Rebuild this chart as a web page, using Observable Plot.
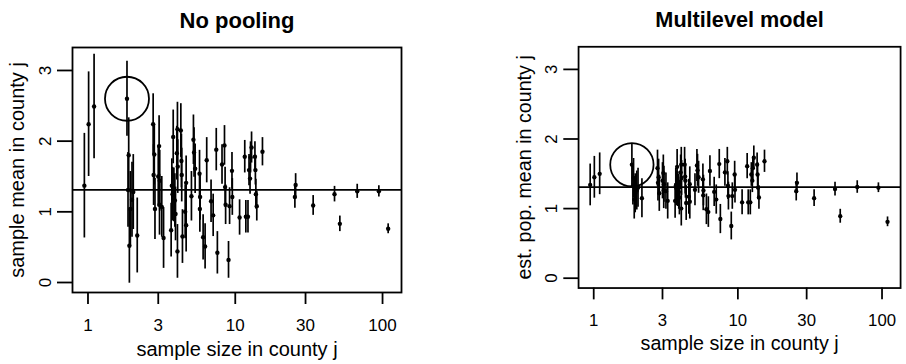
<!DOCTYPE html>
<html>
<head>
<meta charset="utf-8">
<script src="https://cdn.jsdelivr.net/npm/d3@7"></script>
<script src="https://cdn.jsdelivr.net/npm/@observablehq/plot@0.6"></script>
<style>
  html, body { margin: 0; padding: 0; background: white; }
  #wrap { position: relative; width: 906px; height: 364px; overflow: hidden; background: white; }
  #left, #right { position: absolute; top: 0; }
  #left { left: 0; }
  #right { left: 453px; }
</style>
</head>
<body>
<div id="wrap"><div id="left"></div><div id="right"></div></div>
<script>
// ---- data ----
const panelTitles = ["No pooling", "Multilevel model"];
const xLabel = "sample size in county j";
const yLabels = ["sample mean in county j", "est. pop. mean in county j"];
const xTicks = [1, 3, 10, 30, 100];
const yTicks = [0, 1, 2, 3];
const grandMean = 1.31;
const circledCounty = 3; // index of the circled county

// (jittered) sample size in each county
const sampleSize = [0.945, 1.01, 1.10, 1.84, 1.89, 1.87, 1.91, 2.03, 1.99, 1.94, 2.16,
  2.77, 2.82, 2.79, 2.85, 3.04, 3.00, 3.07, 3.06, 3.17, 3.26,
  3.67, 3.71, 3.75, 3.79, 3.83, 3.89, 3.93, 4.01, 4.05, 4.05, 4.07, 4.27, 4.31, 4.33, 4.38, 4.57, 4.64, 4.64,
  5.04, 5.20, 5.25, 5.34, 5.72, 5.77, 5.75, 6.05, 6.24, 6.40, 6.85, 7.08, 7.43, 7.56,
  8.13, 8.45, 8.53, 8.60, 9.00, 9.15, 9.50, 9.55, 10.7, 11.6, 11.8, 12.2, 12.4, 12.6, 12.7, 12.9,
  13.6, 13.7, 13.8, 14.0, 15.3, 25.4, 25.7, 33.8, 47.2, 51.3, 67.3, 94.4, 109.2];

// no pooling: sample mean and standard error
const npMean = [1.37, 2.24, 2.49, 2.60, 1.80, 1.31, 0.52, 1.28, 1.17, 1.04, 0.665,
  2.24, 1.81, 1.52, 1.04, 1.93, 1.50, 1.44, 1.10, 1.07, 0.63,
  0.74, 1.37, 1.25, 2.06, 1.24, 1.16, 0.97, 1.83, 2.17, 0.44, 1.64, 2.15, 1.72, 1.52, 0.65, 1.00, 0.81, 1.41,
  1.22, 2.02, 1.84, 1.61, 1.54, 1.21, 1.04, 0.64, 0.51, 1.73, 1.15, 0.95, 1.88, 0.42,
  1.67, 1.94, 1.35, 1.10, 0.32, 1.08, 1.58, 1.21, 0.92, 1.78, 0.93, 0.93, 1.59, 1.47, 1.77, 1.91,
  1.78, 1.59, 1.25, 1.08, 1.85, 1.21, 1.38, 1.09, 1.25, 0.83, 1.29, 1.29, 0.76];
const npSE = [0.74, 0.74, 0.74, 0.53, 0.53, 0.53, 0.53, 0.53, 0.53, 0.53, 0.53,
  0.43, 0.43, 0.43, 0.43, 0.43, 0.43, 0.43, 0.43, 0.43, 0.43,
  0.38, 0.38, 0.38, 0.38, 0.38, 0.38, 0.38, 0.38, 0.38, 0.38, 0.38, 0.38, 0.38, 0.38, 0.38, 0.38, 0.38, 0.38,
  0.35, 0.35, 0.35, 0.35, 0.33, 0.33, 0.33, 0.32, 0.32, 0.32, 0.30, 0.30, 0.30, 0.30,
  0.28, 0.28, 0.28, 0.28, 0.26, 0.26, 0.26, 0.26, 0.25, 0.23, 0.23, 0.23, 0.22, 0.22, 0.22, 0.22,
  0.21, 0.21, 0.21, 0.21, 0.20, 0.16, 0.16, 0.14, 0.11, 0.11, 0.10, 0.08, 0.07];

// multilevel model: estimated mean and standard error
const mlMean = [1.34, 1.45, 1.50, 1.63, 1.44, 1.33, 1.13, 1.30, 1.26, 1.22, 1.15,
  1.58, 1.45, 1.37, 1.22, 1.51, 1.40, 1.35, 1.26, 1.25, 1.11,
  1.11, 1.33, 1.29, 1.60, 1.28, 1.24, 1.16, 1.52, 1.63, 1.00, 1.44, 1.63, 1.46, 1.40, 1.08, 1.17, 1.10, 1.35,
  1.27, 1.62, 1.55, 1.45, 1.42, 1.26, 1.19, 0.99, 0.95, 1.54, 1.24, 1.13, 1.64, 0.85,
  1.52, 1.68, 1.33, 1.18, 0.75, 1.18, 1.49, 1.27, 1.09, 1.61, 1.09, 1.09, 1.49, 1.40, 1.58, 1.73,
  1.63, 1.49, 1.30, 1.16, 1.68, 1.25, 1.37, 1.15, 1.28, 0.89, 1.31, 1.30, 0.81];
const mlSE = [0.30, 0.30, 0.30, 0.29, 0.28, 0.28, 0.28, 0.28, 0.28, 0.28, 0.28,
  0.26, 0.26, 0.26, 0.26, 0.26, 0.26, 0.26, 0.26, 0.26, 0.26,
  0.25, 0.25, 0.25, 0.25, 0.25, 0.25, 0.25, 0.25, 0.25, 0.25, 0.25, 0.25, 0.25, 0.25, 0.25, 0.25, 0.25, 0.25,
  0.23, 0.23, 0.23, 0.23, 0.22, 0.22, 0.22, 0.22, 0.22, 0.22, 0.21, 0.21, 0.21, 0.21,
  0.20, 0.20, 0.20, 0.20, 0.20, 0.19, 0.19, 0.19, 0.18, 0.18, 0.18, 0.18, 0.17, 0.17, 0.17, 0.17,
  0.17, 0.17, 0.17, 0.17, 0.16, 0.14, 0.14, 0.12, 0.10, 0.10, 0.09, 0.07, 0.07];

// ---- drawing ----
const FONT = "'Liberation Sans', Arial, Helvetica, sans-serif";

function rowsFor(means, ses) {
  return sampleSize.map((n, i) => ({n, m: means[i], lo: means[i] - ses[i], hi: means[i] + ses[i]}));
}

function panel({width, marginLeft, marginRight, title, yLabel, rows}) {
  return Plot.plot({
    width, height: 364,
    marginLeft, marginRight, marginTop: 47, marginBottom: 72,
    x: {type: "log", domain: [0.785, 134.5]},
    y: {domain: [-0.1415, 3.325]},
    style: {fontFamily: FONT, fontSize: "17px", color: "black", background: "white", overflow: "visible"},
    marks: [
      Plot.ruleY([grandMean], {stroke: "black", strokeWidth: 1.8}),
      Plot.ruleX(rows, {x: "n", y1: "lo", y2: "hi", stroke: "black", strokeWidth: 1.7}),
      Plot.dot(rows, {x: "n", y: "m", r: 2.2, fill: "black", stroke: "none"}),
      Plot.dot([rows[circledCounty]], {x: "n", y: "m", r: 22, stroke: "black", strokeWidth: 1.8, fill: "none"}),
      Plot.frame({stroke: "black", strokeWidth: 1.8}),
      Plot.axisX({ticks: xTicks, tickSize: 12, tickPadding: 14, tickFormat: d => String(d), label: null, strokeWidth: 1.8, fontSize: 17}),
      Plot.axisY({ticks: yTicks, tickSize: 15, tickFormat: () => "", label: null, strokeWidth: 1.8}),
      Plot.text(yTicks, {y: d => d, text: d => String(d), frameAnchor: "left", dx: -27, rotate: -90,
        textAnchor: "middle", lineAnchor: "middle", fontSize: 17}),
      Plot.text([yLabel], {text: d => d, frameAnchor: "left", dx: -55, rotate: -90,
        textAnchor: "middle", lineAnchor: "middle", fontSize: 20}),
      Plot.text([xLabel], {text: d => d, frameAnchor: "bottom", dy: 57,
        textAnchor: "middle", lineAnchor: "middle", fontSize: 20}),
      Plot.text([title], {text: d => d, frameAnchor: "top", dy: -27,
        textAnchor: "middle", lineAnchor: "middle", fontSize: 22, fontWeight: "bold"})
    ]
  });
}

document.getElementById("left").append(panel({
  width: 453, marginLeft: 72, marginRight: 52,
  title: panelTitles[0], yLabel: yLabels[0], rows: rowsFor(npMean, npSE)
}));
document.getElementById("right").append(panel({
  width: 460, marginLeft: 127, marginRight: 6,
  title: panelTitles[1], yLabel: yLabels[1], rows: rowsFor(mlMean, mlSE)
}));
</script>
</body>
</html>
